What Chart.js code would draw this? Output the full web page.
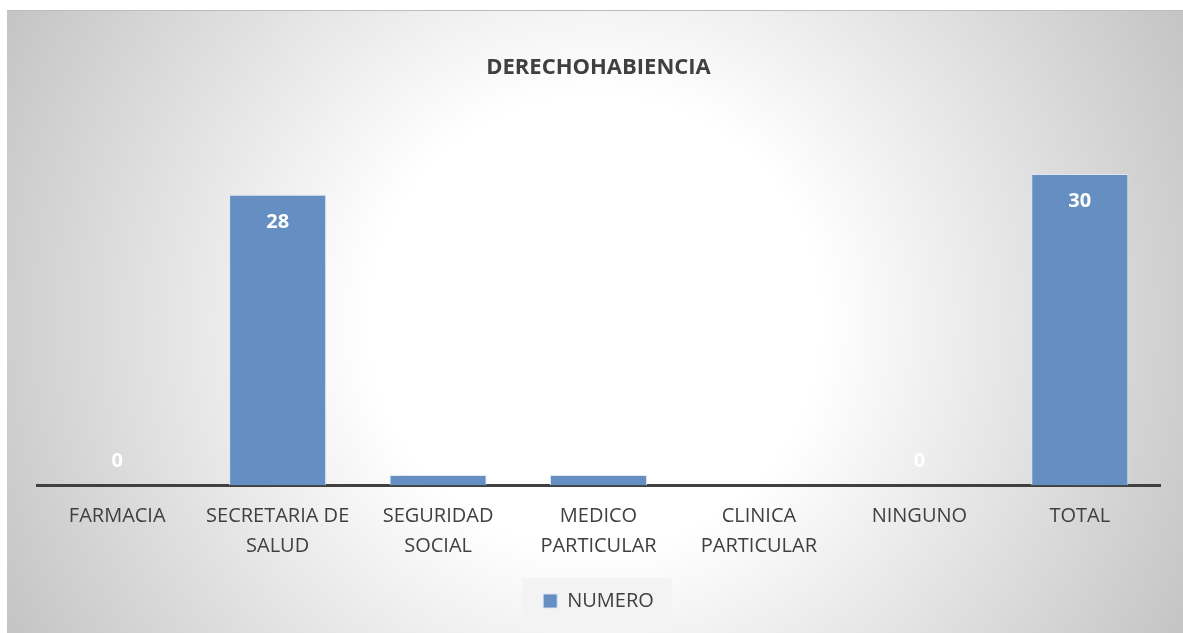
<!DOCTYPE html>
<html>
<head>
<meta charset="utf-8">
<script src="https://cdn.jsdelivr.net/npm/chart.js@4.4.1/dist/chart.umd.min.js"></script>
<style>
  html, body { margin: 0; padding: 0; background: #ffffff; }
  body { width: 1183px; height: 633px; position: relative; overflow: hidden; }
  #bg {
    position: absolute; left: 7px; top: 10px; width: 1176px; height: 623px;
    background: radial-gradient(circle 665px at 50% 50%, #ffffff 0%, #ffffff 34%, #c4c4c4 100%);
    box-shadow: inset 0 1px 0 #bdbdbd;
  }
  #wrap { position: absolute; left: 7px; top: 10px; width: 1176px; height: 623px; }
</style>
</head>
<body>
<div id="bg"></div>
<div id="wrap"><canvas id="c" width="1176" height="623"></canvas></div>
<script>
// ---- data ----
const chartTitle = 'DERECHOHABIENCIA';
const categories = [
  ['FARMACIA'],
  ['SECRETARIA DE', 'SALUD'],
  ['SEGURIDAD', 'SOCIAL'],
  ['MEDICO', 'PARTICULAR'],
  ['CLINICA', 'PARTICULAR'],
  ['NINGUNO'],
  ['TOTAL']
];
const seriesName = 'NUMERO';
const values = [0, 28, 1, 1, 0, 0, 30];
const yMin = 0;
const yMax = 35;

const FONT = '"Open Sans", "DejaVu Sans", sans-serif';
const TEXT = '#404040';
const BAR = '#658fc3';

const labelPlugin = {
  id: 'barLabels',
  afterDatasetsDraw(chart) {
    const ctx = chart.ctx;
    const meta = chart.getDatasetMeta(0);
    ctx.save();
    ctx.font = 'bold 20px ' + FONT;
    ctx.fillStyle = '#ffffff';
    ctx.textAlign = 'center';
    ctx.textBaseline = 'middle';
    meta.data.forEach((bar, i) => {
      const v = chart.data.datasets[0].data[i];
      const y = v > 1 ? bar.y + 27.5 : bar.base - 24;
      ctx.fillText(String(v), bar.x, y);
    });
    ctx.restore();
  }
};

const legendBgPlugin = {
  id: 'legendBg',
  beforeDraw(chart) {
    const lg = chart.legend;
    if (!lg || !lg.legendHitBoxes || !lg.legendHitBoxes.length) return;
    const hb = lg.legendHitBoxes[0];
    const cy = hb.top + hb.height / 2;
    const ctx = chart.ctx;
    ctx.save();
    ctx.fillStyle = 'rgba(242,242,242,0.85)';
    ctx.fillRect(hb.left - 21, cy - 23, hb.width + 39, 46);
    ctx.restore();
  }
};

function draw() {
  new Chart(document.getElementById('c'), {
    type: 'bar',
    data: {
      labels: categories,
      datasets: [{
        label: seriesName,
        data: values,
        backgroundColor: BAR,
        borderColor: 'rgba(220,230,242,0.9)',
        borderWidth: 1,
        borderSkipped: 'bottom',
        categoryPercentage: 1.0,
        barPercentage: 0.605
      }]
    },
    options: {
      responsive: false,
      animation: false,
      layout: { padding: { left: 30, right: 23, top: 0, bottom: 12 } },
      scales: {
        x: {
          grid: { display: false, drawTicks: false },
          border: { display: true, color: '#404040', width: 3 },
          ticks: {
            color: TEXT,
            font: { family: FONT, size: 20, lineHeight: 1.5 },
            padding: 15.5,
            maxRotation: 0,
            autoSkip: false
          }
        },
        y: {
          display: false,
          min: yMin,
          max: yMax
        }
      },
      plugins: {
        title: {
          display: true,
          text: chartTitle,
          color: TEXT,
          font: { family: FONT, size: 22, weight: 'bold', lineHeight: 1.2 },
          padding: { top: 44.8, bottom: 40.8 }
        },
        legend: {
          display: true,
          position: 'bottom',
          labels: {
            color: TEXT,
            font: { family: FONT, size: 20 },
            boxWidth: 14,
            boxHeight: 14,
            padding: 14.5,
            generateLabels(chart) {
              return [{
                text: seriesName,
                fillStyle: BAR,
                strokeStyle: 'rgba(220,230,242,0.9)',
                lineWidth: 1,
                fontColor: TEXT,
                hidden: false,
                datasetIndex: 0
              }];
            }
          }
        },
        tooltip: { enabled: false }
      }
    },
    plugins: [labelPlugin, legendBgPlugin]
  });
}

if (document.fonts && document.fonts.load) {
  Promise.all([
    document.fonts.load('20px "Open Sans"'),
    document.fonts.load('bold 20px "Open Sans"')
  ]).then(draw, draw);
} else {
  draw();
}
</script>
</body>
</html>
